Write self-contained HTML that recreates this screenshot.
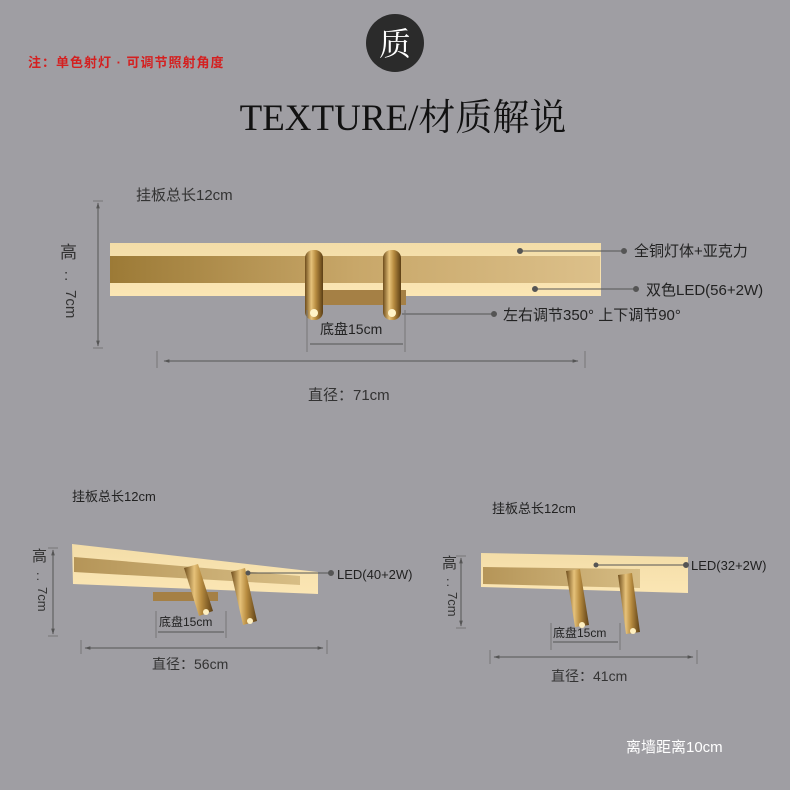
<!DOCTYPE html>
<html><head><meta charset="utf-8"><style>
html,body{margin:0;padding:0;background:#9f9ea3;}
svg{display:block}
text{font-family:"Liberation Sans","Noto Sans CJK SC",sans-serif;}
</style></head><body>
<svg width="790" height="790" viewBox="0 0 790 790" xmlns="http://www.w3.org/2000/svg">
<defs>
<linearGradient id="pan" x1="0" y1="0" x2="0" y2="1">
<stop offset="0" stop-color="#f3dda8"/><stop offset="1" stop-color="#fbe6b4"/></linearGradient>
<linearGradient id="strip" x1="0" y1="0" x2="1" y2="0">
<stop offset="0" stop-color="#9c7a36"/><stop offset="0.5" stop-color="#c8a769"/><stop offset="1" stop-color="#dcc08a"/></linearGradient>
<linearGradient id="strip2" x1="0" y1="0" x2="1" y2="0">
<stop offset="0" stop-color="#b59558"/><stop offset="1" stop-color="#d7bd85"/></linearGradient>
<linearGradient id="cyl" x1="0" y1="0" x2="1" y2="0">
<stop offset="0" stop-color="#6e4d1c"/><stop offset="0.35" stop-color="#e6c27a"/><stop offset="0.6" stop-color="#b88c40"/><stop offset="1" stop-color="#5c3f15"/></linearGradient>
<marker id="ar" viewBox="0 0 10 10" refX="9" refY="5" markerWidth="6" markerHeight="6" orient="auto-start-reverse"><path d="M0,2 L10,5 L0,8z" fill="#555"/></marker>
</defs>
<rect width="790" height="790" fill="#9f9ea3"/>
<text x="28" y="67" font-size="13" font-weight="bold" fill="#d42020" letter-spacing="1">注：单色射灯 · 可调节照射角度</text>
<circle cx="395" cy="43" r="29" fill="#2b2b2b"/>
<text x="395" y="55" font-size="32" fill="#fff" text-anchor="middle" style="font-family:'Noto Serif CJK SC',serif">质</text>
<text x="403" y="130" font-size="37" fill="#111" text-anchor="middle" style="font-family:'Liberation Serif','Noto Serif CJK SC',serif">TEXTURE/材质解说</text>

<!-- main lamp -->
<text x="136" y="200" font-size="15" fill="#333">挂板总长12cm</text>
<line x1="98" y1="203" x2="98" y2="346" stroke="#555" marker-start="url(#ar)" marker-end="url(#ar)"/>
<line x1="93" y1="201" x2="103" y2="201" stroke="#777"/><line x1="93" y1="348" x2="103" y2="348" stroke="#777"/>
<text x="60" y="258" font-size="17" fill="#333">高</text>
<text x="64" y="280" font-size="15" fill="#333">:</text>
<text x="60" y="296" font-size="15" fill="#333" transform="rotate(90 66 296)">7cm</text>
<rect x="110" y="243" width="491" height="53" fill="url(#pan)"/>
<rect x="110" y="256" width="490" height="27" fill="url(#strip)"/>
<rect x="310" y="290" width="96" height="15" fill="#a58045"/>
<rect x="305" y="250" width="18" height="70" rx="8" fill="url(#cyl)"/>
<rect x="383" y="250" width="18" height="70" rx="8" fill="url(#cyl)"/>
<circle cx="314" cy="313" r="4" fill="#fff3c8"/><circle cx="392" cy="313" r="4" fill="#fff3c8"/>
<g stroke="#555" fill="#555">
<line x1="520" y1="251" x2="624" y2="251"/><circle cx="520" cy="251" r="2.5"/><circle cx="624" cy="251" r="2.5"/>
<line x1="535" y1="289" x2="636" y2="289"/><circle cx="535" cy="289" r="2.5"/><circle cx="636" cy="289" r="2.5"/>
<line x1="402" y1="314" x2="494" y2="314"/><circle cx="494" cy="314" r="2.5"/>
</g>
<text x="634" y="256" font-size="15" fill="#222">全铜灯体+亚克力</text>
<text x="646" y="295" font-size="15" fill="#222">双色LED(56+2W)</text>
<text x="503" y="320" font-size="15" fill="#222">左右调节350° 上下调节90°</text>
<text x="320" y="334" font-size="14" fill="#222">底盘15cm</text>
<line x1="307" y1="310" x2="307" y2="352" stroke="#777"/><line x1="405" y1="310" x2="405" y2="352" stroke="#777"/>
<line x1="310" y1="344" x2="403" y2="344" stroke="#555"/>
<line x1="157" y1="351" x2="157" y2="368" stroke="#777"/><line x1="585" y1="351" x2="585" y2="368" stroke="#777"/>
<line x1="164" y1="361" x2="578" y2="361" stroke="#555" marker-start="url(#ar)" marker-end="url(#ar)"/>
<text x="308" y="400" font-size="15" fill="#333">直径：71cm</text>

<!-- left lamp -->
<text x="72" y="501" font-size="13" fill="#222">挂板总长12cm</text>
<line x1="53" y1="550" x2="53" y2="634" stroke="#555" marker-start="url(#ar)" marker-end="url(#ar)"/>
<line x1="48" y1="548" x2="58" y2="548" stroke="#777"/><line x1="48" y1="636" x2="58" y2="636" stroke="#777"/>
<text x="32" y="561" font-size="15" fill="#333">高</text>
<text x="36" y="580" font-size="13" fill="#333">:</text>
<text x="32" y="593" font-size="13" fill="#333" transform="rotate(90 38 593)">7cm</text>
<polygon points="72,544 318,572 318,594 73,584" fill="url(#pan)"/>
<polygon points="74,557 300,576 300,585 74,572" fill="url(#strip2)"/>
<rect x="153" y="592" width="65" height="9" fill="#a58045"/>
<polygon points="184,568 198,564 213,611 199,616" fill="url(#cyl)"/>
<polygon points="231,572 245,568 257,621 243,625" fill="url(#cyl)"/>
<circle cx="206" cy="612" r="3" fill="#fff0c0"/><circle cx="250" cy="621" r="3" fill="#fff0c0"/>
<g stroke="#555" fill="#555"><line x1="248" y1="573" x2="331" y2="573"/><circle cx="248" cy="573" r="2"/><circle cx="331" cy="573" r="2.5"/></g>
<text x="337" y="579" font-size="13" fill="#222">LED(40+2W)</text>
<text x="159" y="626" font-size="12" fill="#222">底盘15cm</text>
<line x1="156" y1="611" x2="156" y2="638" stroke="#777"/><line x1="226" y1="611" x2="226" y2="638" stroke="#777"/>
<line x1="158" y1="632" x2="224" y2="632" stroke="#555"/>
<line x1="81" y1="640" x2="81" y2="654" stroke="#777"/><line x1="327" y1="640" x2="327" y2="654" stroke="#777"/>
<line x1="85" y1="648" x2="323" y2="648" stroke="#555" marker-start="url(#ar)" marker-end="url(#ar)"/>
<text x="152" y="669" font-size="14" fill="#333">直径：56cm</text>

<!-- right lamp -->
<text x="492" y="513" font-size="13" fill="#222">挂板总长12cm</text>
<line x1="461" y1="558" x2="461" y2="626" stroke="#555" marker-start="url(#ar)" marker-end="url(#ar)"/>
<line x1="456" y1="556" x2="466" y2="556" stroke="#777"/><line x1="456" y1="628" x2="466" y2="628" stroke="#777"/>
<text x="442" y="568" font-size="15" fill="#333">高</text>
<text x="446" y="586" font-size="13" fill="#333">:</text>
<text x="442" y="598" font-size="13" fill="#333" transform="rotate(90 448 598)">7cm</text>
<polygon points="481,553 688,557 688,593 481,587" fill="url(#pan)"/>
<polygon points="483,567 640,569 640,588 483,584" fill="url(#strip2)"/>
<polygon points="566,571 580,569 589,625 575,627" fill="url(#cyl)"/>
<polygon points="618,575 632,573 640,632 626,634" fill="url(#cyl)"/>
<circle cx="582" cy="625" r="3" fill="#fff0c0"/><circle cx="633" cy="631" r="3" fill="#fff0c0"/>
<g stroke="#555" fill="#555"><line x1="596" y1="565" x2="686" y2="565"/><circle cx="596" cy="565" r="2"/><circle cx="686" cy="565" r="2.5"/></g>
<text x="691" y="570" font-size="13" fill="#222">LED(32+2W)</text>
<text x="553" y="637" font-size="12" fill="#222">底盘15cm</text>
<line x1="551" y1="623" x2="551" y2="650" stroke="#777"/><line x1="620" y1="623" x2="620" y2="650" stroke="#777"/>
<line x1="553" y1="642" x2="618" y2="642" stroke="#555"/>
<line x1="490" y1="650" x2="490" y2="664" stroke="#777"/><line x1="697" y1="650" x2="697" y2="664" stroke="#777"/>
<line x1="494" y1="657" x2="693" y2="657" stroke="#555" marker-start="url(#ar)" marker-end="url(#ar)"/>
<text x="551" y="681" font-size="14" fill="#333">直径：41cm</text>

<text x="626" y="752" font-size="15" fill="#fff">离墙距离10cm</text>
</svg>
</body></html>
